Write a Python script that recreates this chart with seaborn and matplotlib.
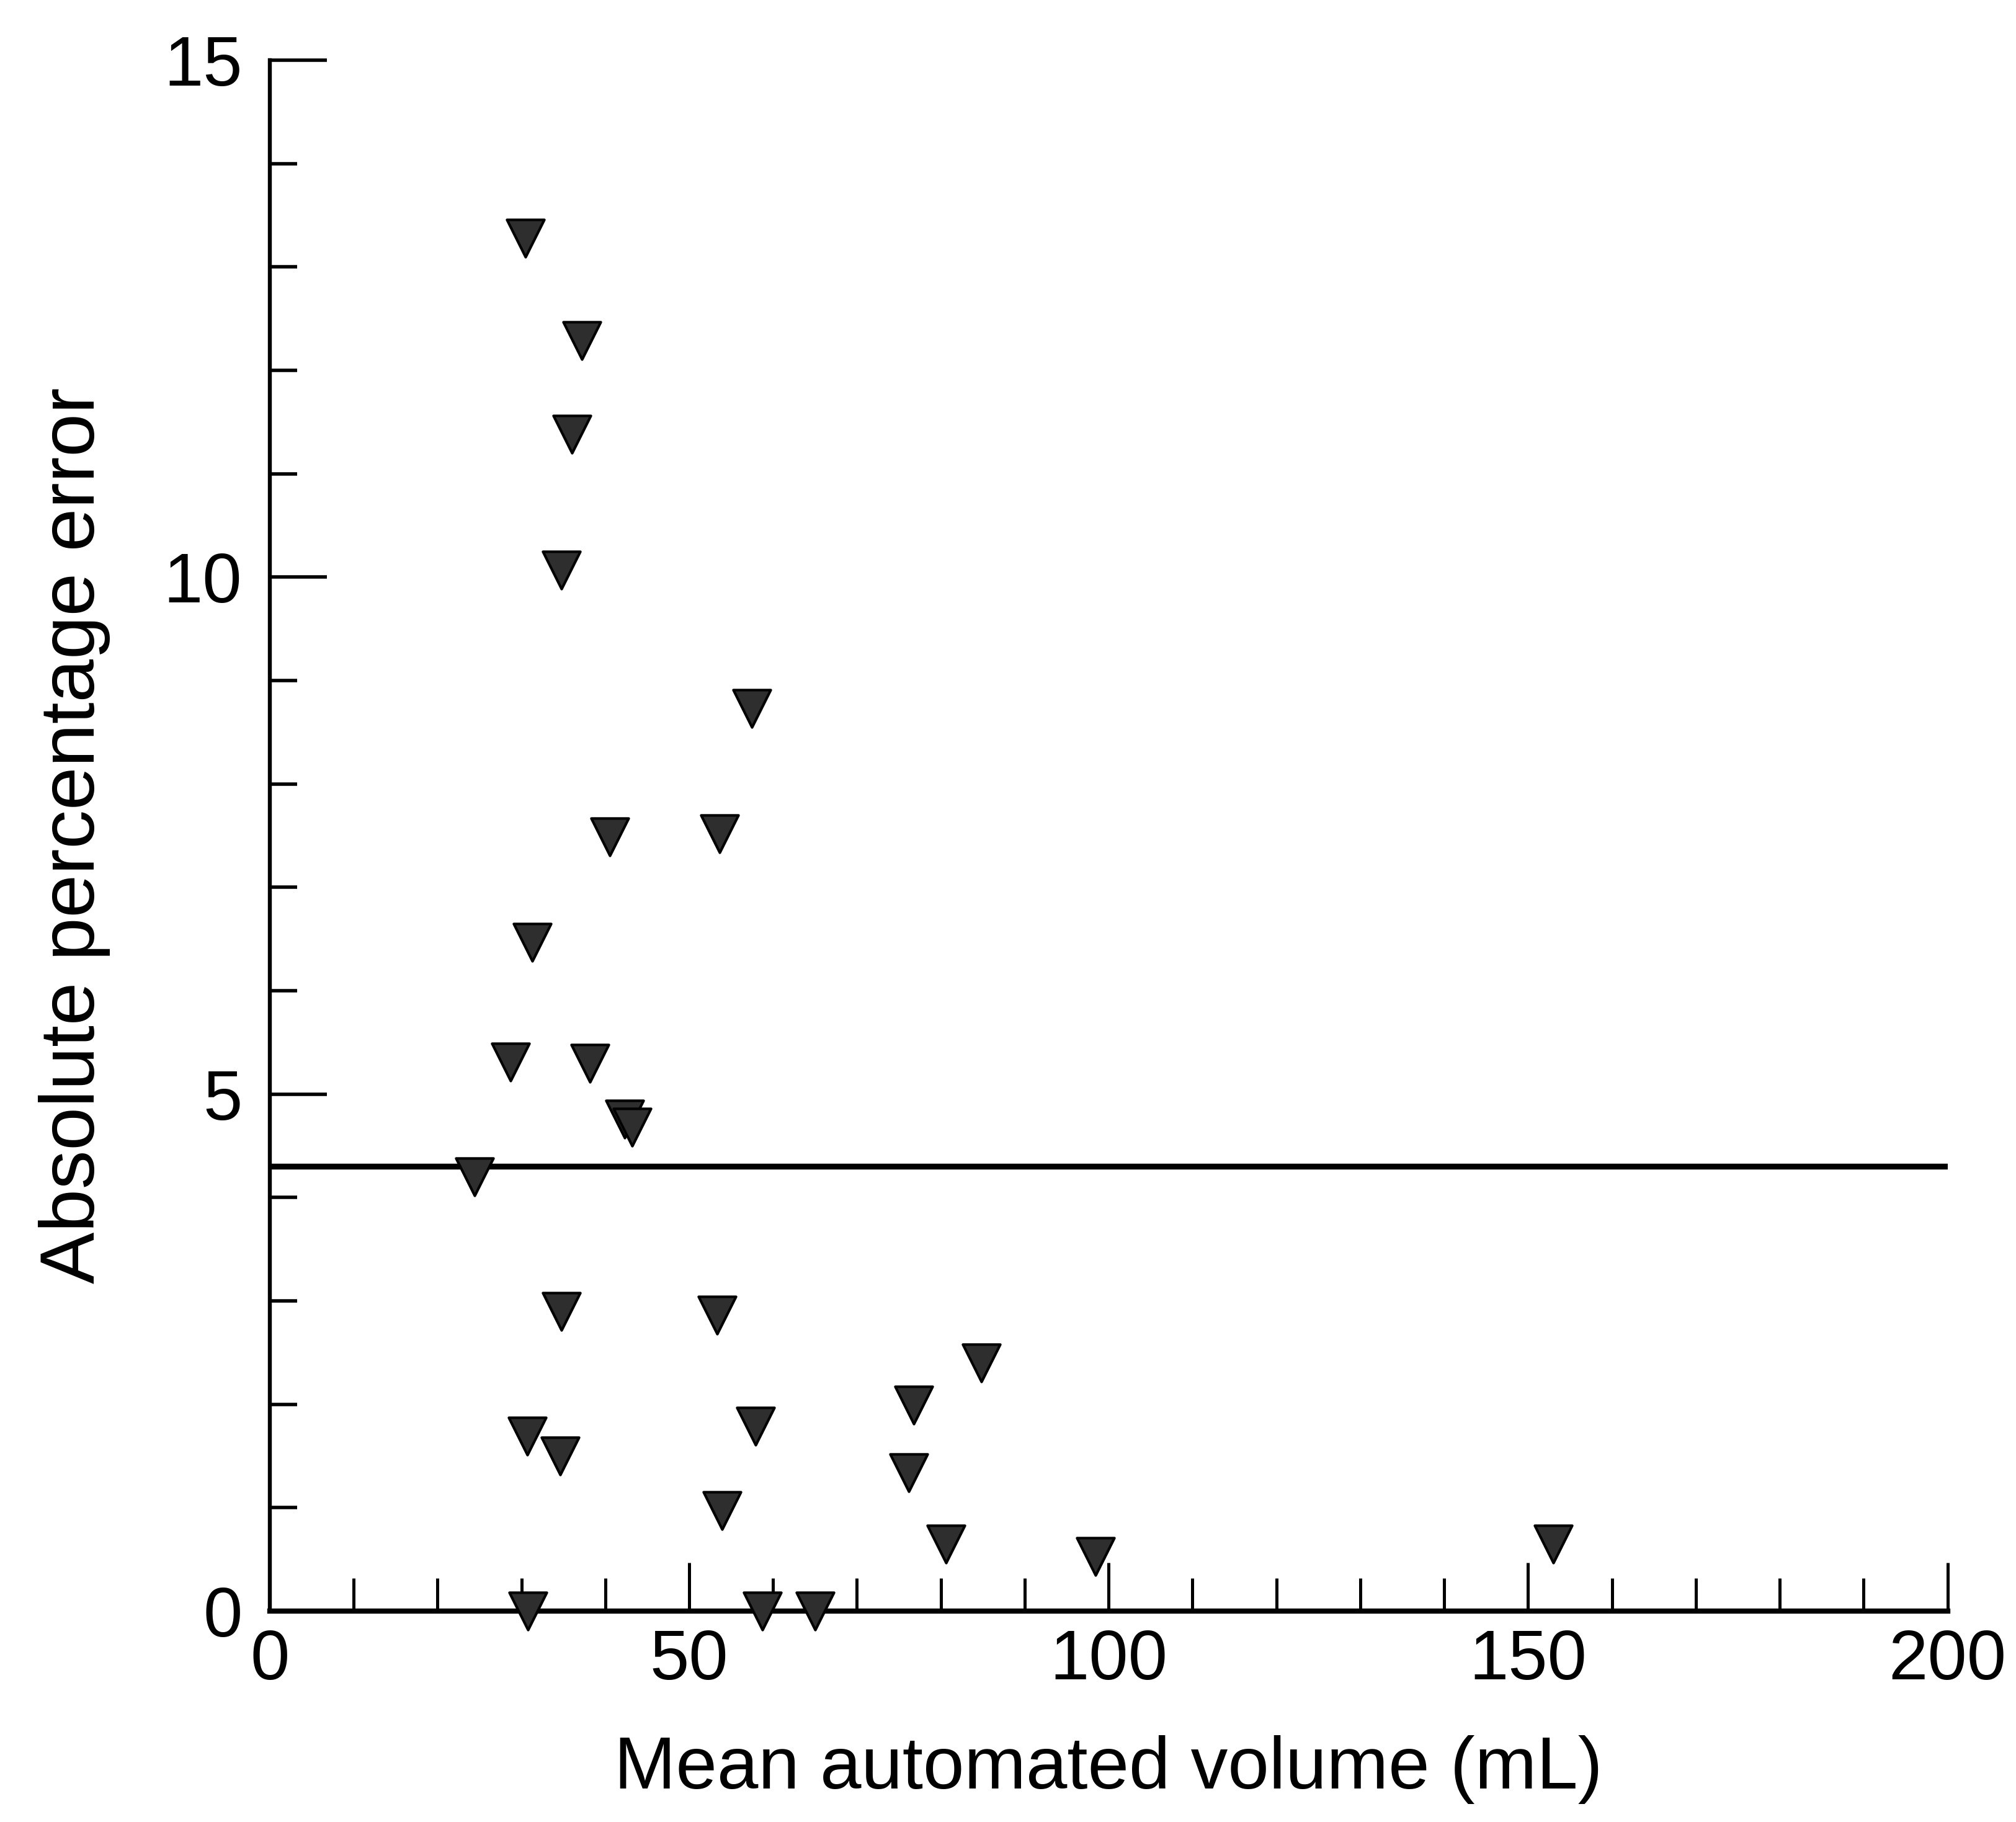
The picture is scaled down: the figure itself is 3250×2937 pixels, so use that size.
import matplotlib
matplotlib.use("Agg")
import matplotlib.pyplot as plt
import seaborn as sns
import pandas as pd
from matplotlib.ticker import MultipleLocator

# Data
volume = [30.5, 37.2, 36.0, 34.8, 57.5, 40.5, 53.6, 31.3, 28.7, 38.2,
          42.3, 43.2, 24.4, 34.8, 53.3, 84.8, 30.7, 34.6, 57.9, 76.8,
          76.2, 53.9, 80.6, 98.4, 153.0, 30.8, 58.7, 65.0]
error = [13.28, 12.29, 11.38, 10.07, 8.73, 7.49, 7.52, 6.47, 5.31, 5.30,
         4.76, 4.68, 4.20, 2.90, 2.86, 2.40, 1.69, 1.50, 1.79, 1.99,
         1.34, 0.97, 0.65, 0.53, 0.65, 0.0, 0.0, 0.0]
mean_error = 4.3

x_label = "Mean automated volume (mL)"
y_label = "Absolute percentage error"
x_ticks = [0, 50, 100, 150, 200]
y_ticks = [0, 5, 10, 15]

df = pd.DataFrame({"volume": volume, "error": error})

sns.set_style("white")
plt.rcParams["font.family"] = ["Liberation Sans", "DejaVu Sans"]
plt.rcParams["text.color"] = "black"
plt.rcParams["axes.labelcolor"] = "black"

fig = plt.figure(figsize=(16.25, 14.685), dpi=200)
ax = fig.add_axes([0.1338, 0.1158, 0.966 - 0.1338, 0.967 - 0.1158])

ax.plot([0, 200], [mean_error, mean_error], color="black", lw=3.4, zorder=2)

sns.scatterplot(data=df, x="volume", y="error", marker="v", s=470,
                color="#2e2e2e", edgecolor="black", linewidth=1.5,
                ax=ax, zorder=3, clip_on=False, legend=False)

ax.set_xlim(0, 200)
ax.set_ylim(0, 15)
ax.set_xticks(x_ticks)
ax.set_yticks(y_ticks)
ax.xaxis.set_minor_locator(MultipleLocator(10))
ax.yaxis.set_minor_locator(MultipleLocator(1))

for s in ["top", "right"]:
    ax.spines[s].set_visible(False)
ax.spines["left"].set_linewidth(2.3)
ax.spines["bottom"].set_linewidth(3.0)
ax.spines["left"].set_color("black")
ax.spines["bottom"].set_color("black")

ax.tick_params(axis="x", which="both", bottom=True, top=False)
ax.tick_params(axis="y", which="both", left=True, right=False)
ax.tick_params(axis="x", which="major", direction="in", length=28, width=1.8,
               labelsize=41, pad=10, color="black", labelcolor="black")
ax.tick_params(axis="x", which="minor", direction="in", length=19, width=1.8,
               color="black")
ax.tick_params(axis="y", which="major", direction="in", length=33, width=2.0,
               labelsize=41, pad=16, color="black", labelcolor="black")
ax.tick_params(axis="y", which="minor", direction="in", length=16, width=2.0,
               color="black")

ax.set_xlabel(x_label, fontsize=43, labelpad=24)
ax.set_ylabel(y_label, fontsize=45, labelpad=31)

fig.savefig("out.png", dpi=200, facecolor="white")
